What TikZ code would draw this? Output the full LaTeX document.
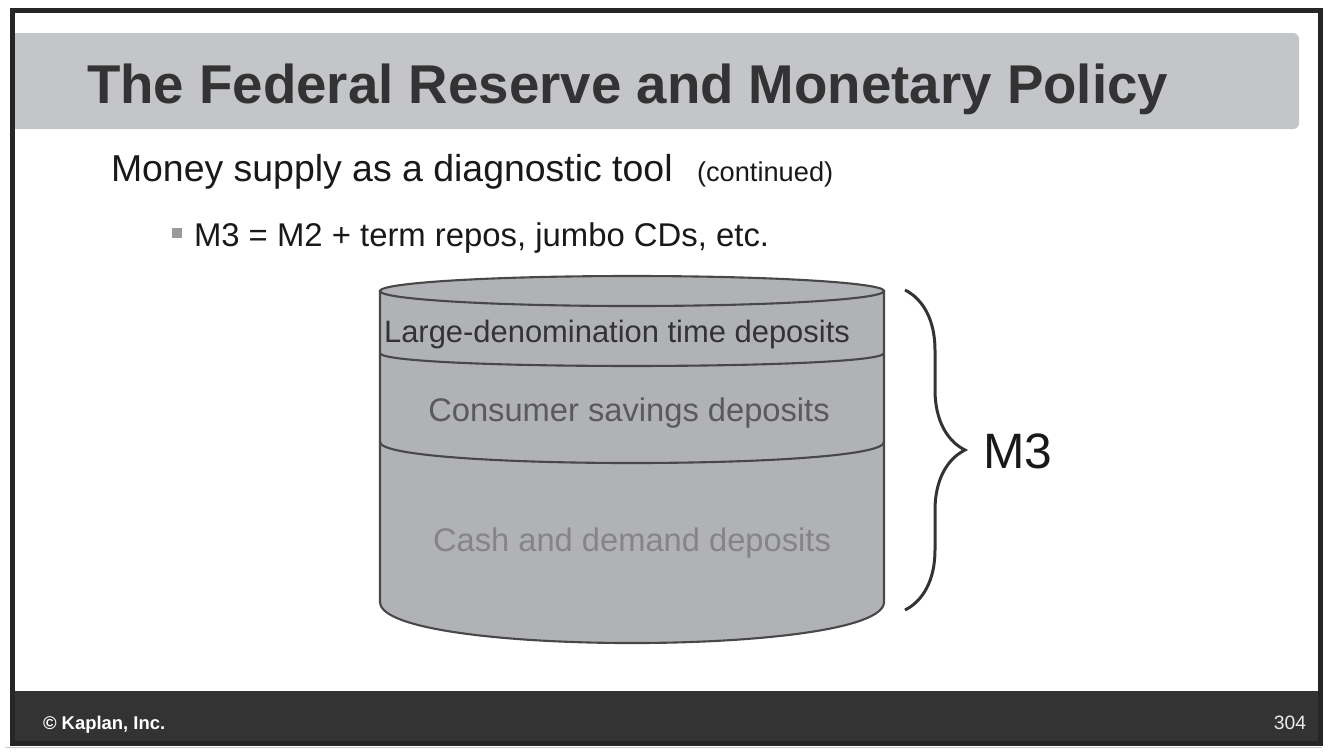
\documentclass[tikz,border=0pt]{standalone}
\usepackage{fontspec}
\setmainfont{Liberation Sans}
\usetikzlibrary{decorations.pathreplacing}

\definecolor{bandgray}{HTML}{C4C5C8}
\definecolor{cylgray}{HTML}{B1B2B5}
\definecolor{cyledge}{HTML}{484848}
\definecolor{darkbar}{HTML}{333333}
\definecolor{titleink}{HTML}{333333}
\definecolor{savink}{HTML}{5A5A5A}
\definecolor{cashink}{HTML}{858585}
\definecolor{bulletgray}{HTML}{9A9A9A}

\begin{document}
\begin{tikzpicture}[x=0.02cm, y=-0.02cm,
    txt/.style={inner sep=0pt, outer sep=0pt},
    cylline/.style={draw=cyledge, line width=1.2pt},
    layer/.style={txt, font=\fontsize{18.6}{22}\selectfont}]
    \useasboundingbox (0,0) rectangle (1334,755);

    % Title band, rounded on the right only
    \fill[bandgray] (15,33) -- (1293,33) .. controls (1296.3,33) and (1299,35.7) .. (1299,39)
      -- (1299,123) .. controls (1299,126.3) and (1296.3,129) .. (1293,129) -- (15,129) -- cycle;
    \node[txt, anchor=base west, text=titleink, font=\fontsize{31.1}{37}\selectfont\bfseries] (title) at (87,103)
      {The Federal Reserve and Monetary Policy};

    % Footer bar and frame
    \fill[darkbar] (15,691) rectangle (1318,742);
    \draw[black!85, line width=2.8pt] (12.5,10.5) rectangle (1320.5,743.5);
    \draw[black!20, line width=0.6pt] (5,747.5) -- (1322,747.5);
    \node[txt, anchor=base west, text=white, font=\fontsize{10.5}{12}\selectfont\bfseries] (copy) at (43,729) {© Kaplan, Inc.};
    \node[txt, anchor=base east, text=white!92!black, font=\fontsize{11}{13}\selectfont] (pageno) at (1306,729) {304};

    % Text lines
    \node[txt, anchor=base west, text=black!90, font=\fontsize{21.3}{25}\selectfont] (money) at (111,181)
      {Money supply as a diagnostic tool};
    \node[txt, anchor=base west, text=black!90, font=\fontsize{15.5}{18}\selectfont] (cont) at (697,181) {(continued)};
    \node[txt, fill=bulletgray, minimum size=0.19cm] (bul) at (177,233) {};
    \node[txt, anchor=base west, text=black!90, font=\fontsize{18.7}{22}\selectfont] (mdef) at (194,246)
      {M3 = M2 + term repos, jumbo CDs, etc.};

    % Cylinder body and top
    \path[cylline, fill=cylgray] (380,291) -- (380,602) .. controls (380,656.7) and (884,656.7) .. (884,602)
      -- (884,291) -- cycle;
    \path[cylline, fill=cylgray] (632,291) ellipse [x radius=252, y radius=15];

    % Layer boundaries
    \draw[cylline] (380,353) .. controls (380,370.3) and (884,370.3) .. (884,353);
    \draw[cylline] (380,442) .. controls (380,470) and (884,470) .. (884,442);

    % Layer labels
    \node[txt, text=titleink, font=\fontsize{17.6}{21}\selectfont] (large) at (617,334) {Large-denomination time deposits};
    \node[layer, text=savink] (savings) at (629,413) {Consumer savings deposits};
    \node[layer, text=cashink] (cash) at (632,543) {Cash and demand deposits};

    % Brace and M3
    \coordinate (bracetop) at (905,290);
    \coordinate (bracebot) at (905,610);
    \draw[darkbar, line width=1.7pt, decorate, decoration={brace, amplitude=1.2cm}] (bracetop) -- (bracebot);
    \node[txt, anchor=west, text=black!90, font=\fontsize{28.3}{34}\selectfont] (mthree) at (983,451) {M3};
  \end{tikzpicture}
\end{document}
